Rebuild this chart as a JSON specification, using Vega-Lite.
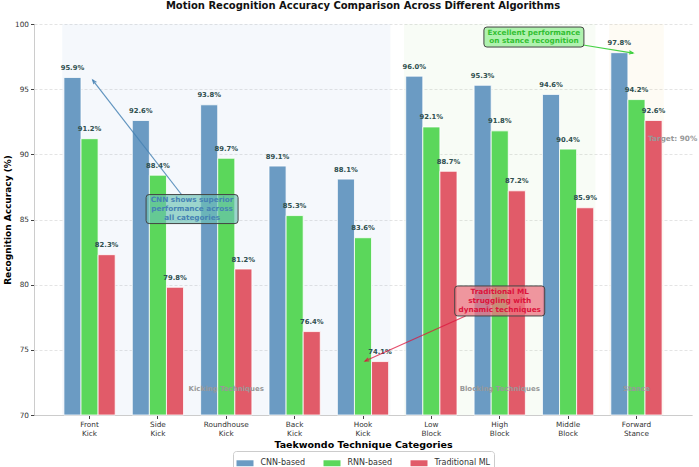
{
  "$schema": "https://vega.github.io/schema/vega-lite/v6.json",
  "width": 658,
  "height": 391,
  "autosize": {"type": "none"},
  "padding": {"left": 34, "top": 24, "right": 7, "bottom": 52},
  "background": "white",
  "title": {
    "text": "Motion Recognition Accuracy Comparison Across Different Algorithms",
    "fontSize": 10,
    "fontWeight": "bold",
    "color": "#111",
    "anchor": "middle",
    "offset": 9
  },
  "config": {"font": "DejaVu Sans", "view": {"stroke": null}},
  "datasets": {
    "accuracy": [
      {"technique": "Front Kick", "algorithm": "CNN-based", "accuracy": 95.9},
      {"technique": "Front Kick", "algorithm": "RNN-based", "accuracy": 91.2},
      {"technique": "Front Kick", "algorithm": "Traditional ML", "accuracy": 82.3},
      {"technique": "Side Kick", "algorithm": "CNN-based", "accuracy": 92.6},
      {"technique": "Side Kick", "algorithm": "RNN-based", "accuracy": 88.4},
      {"technique": "Side Kick", "algorithm": "Traditional ML", "accuracy": 79.8},
      {"technique": "Roundhouse Kick", "algorithm": "CNN-based", "accuracy": 93.8},
      {"technique": "Roundhouse Kick", "algorithm": "RNN-based", "accuracy": 89.7},
      {"technique": "Roundhouse Kick", "algorithm": "Traditional ML", "accuracy": 81.2},
      {"technique": "Back Kick", "algorithm": "CNN-based", "accuracy": 89.1},
      {"technique": "Back Kick", "algorithm": "RNN-based", "accuracy": 85.3},
      {"technique": "Back Kick", "algorithm": "Traditional ML", "accuracy": 76.4},
      {"technique": "Hook Kick", "algorithm": "CNN-based", "accuracy": 88.1},
      {"technique": "Hook Kick", "algorithm": "RNN-based", "accuracy": 83.6},
      {"technique": "Hook Kick", "algorithm": "Traditional ML", "accuracy": 74.1},
      {"technique": "Low Block", "algorithm": "CNN-based", "accuracy": 96.0},
      {"technique": "Low Block", "algorithm": "RNN-based", "accuracy": 92.1},
      {"technique": "Low Block", "algorithm": "Traditional ML", "accuracy": 88.7},
      {"technique": "High Block", "algorithm": "CNN-based", "accuracy": 95.3},
      {"technique": "High Block", "algorithm": "RNN-based", "accuracy": 91.8},
      {"technique": "High Block", "algorithm": "Traditional ML", "accuracy": 87.2},
      {"technique": "Middle Block", "algorithm": "CNN-based", "accuracy": 94.6},
      {"technique": "Middle Block", "algorithm": "RNN-based", "accuracy": 90.4},
      {"technique": "Middle Block", "algorithm": "Traditional ML", "accuracy": 85.9},
      {"technique": "Forward Stance", "algorithm": "CNN-based", "accuracy": 97.8},
      {"technique": "Forward Stance", "algorithm": "RNN-based", "accuracy": 94.2},
      {"technique": "Forward Stance", "algorithm": "Traditional ML", "accuracy": 92.6}
    ],
    "regions": [
      {"region": "Kicking Techniques", "start": -0.4, "end": 4.4, "mid": 2},
      {"region": "Blocking Techniques", "start": 4.6, "end": 7.4, "mid": 6},
      {"region": "Stance", "start": 7.6, "end": 8.4, "mid": 8}
    ],
    "notes": [
      {"note": "cnn", "text": "CNN shows superior\nperformance across\nall categories", "x": 1.5, "y": 85.8, "tip_x": 0.046, "tip_y": 95.7, "tail_x": 1.35, "tail_y": 86.88},
      {"note": "stance", "text": "Excellent performance\non stance recognition", "x": 6.5, "y": 99.0, "tip_x": 7.95, "tip_y": 97.77, "tail_x": 7.22, "tail_y": 98.39},
      {"note": "traditional", "text": "Traditional ML\nstruggling with\ndynamic techniques", "x": 6.0, "y": 78.75, "tip_x": 4.03, "tip_y": 74.14, "tail_x": 5.5, "tail_y": 77.6}
    ]
  },
  "layer": [
    {
      "data": {"name": "regions"},
      "mark": {"type": "rect", "fillOpacity": 0.1},
      "encoding": {
        "x": {"field": "start", "type": "quantitative", "scale": {"domain": [-0.8125, 8.8125], "nice": false, "zero": false}, "axis": null},
        "x2": {"field": "end"},
        "y": {"datum": 70},
        "y2": {"datum": 100},
        "fill": {
          "field": "region",
          "type": "nominal",
          "scale": {"domain": ["Kicking Techniques", "Blocking Techniques", "Stance"], "range": ["#9bb9e1", "#b9e1a5", "#f5d791"]},
          "legend": null
        }
      }
    },
    {
      "data": {"name": "accuracy"},
      "mark": {"type": "bar", "stroke": "white", "strokeWidth": 0.8},
      "encoding": {
        "x": {
          "field": "technique",
          "type": "nominal",
          "sort": null,
          "scale": {"paddingInner": 0.25, "paddingOuter": 0.4375},
          "axis": {
            "title": "Taekwondo Technique Categories",
            "labelExpr": "split(datum.label, ' ')",
            "labelAngle": 0,
            "labelFontSize": 7.3,
            "labelColor": "#333",
            "labelLineHeight": 9,
            "labelPadding": 2,
            "labelBaseline": "top",
            "tickSize": 3.5,
            "tickColor": "#444",
            "domainColor": "#ccc",
            "grid": false,
            "titleFontSize": 9.5,
            "titleFontWeight": "bold",
            "titleColor": "#000",
            "titlePadding": 3
          }
        },
        "xOffset": {
          "field": "algorithm",
          "type": "nominal",
          "sort": ["CNN-based", "RNN-based", "Traditional ML"],
          "scale": {"paddingInner": 0, "paddingOuter": 0}
        },
        "y": {
          "field": "accuracy",
          "type": "quantitative",
          "scale": {"domain": [70, 100], "zero": false, "nice": false},
          "axis": {
            "title": "Recognition Accuracy (%)",
            "values": [70, 75, 80, 85, 90, 95, 100],
            "labelFontSize": 7.3,
            "labelColor": "#333",
            "labelPadding": 2,
            "tickSize": 3.5,
            "tickColor": "#444",
            "domainColor": "#ccc",
            "grid": true,
            "gridColor": "#ddd",
            "gridDash": [3, 2],
            "gridWidth": 0.8,
            "titleFontSize": 9,
            "titleFontWeight": "bold",
            "titleColor": "#000",
            "titlePadding": 2
          }
        },
        "y2": {"datum": 70},
        "color": {
          "field": "algorithm",
          "type": "nominal",
          "scale": {"domain": ["CNN-based", "RNN-based", "Traditional ML"], "range": ["#6b9bc3", "#5bd75b", "#e15b69"]},
          "legend": {
            "title": null,
            "orient": "none",
            "legendX": 199,
            "legendY": 427,
            "direction": "horizontal",
            "symbolType": "M-1,-0.35 L1,-0.35 L1,0.35 L-1,0.35 Z",
            "symbolSize": 289,
            "symbolStrokeWidth": 0,
            "labelFontSize": 8,
            "labelColor": "#333",
            "labelOffset": 7,
            "columnPadding": 18,
            "padding": 3.5,
            "strokeColor": "#ccc",
            "fillColor": "rgba(255,255,255,0.85)",
            "cornerRadius": 3
          }
        }
      }
    },
    {
      "data": {"name": "regions"},
      "mark": {"type": "text", "fontSize": 7, "fontWeight": "bold", "color": "#999", "baseline": "middle"},
      "encoding": {
        "x": {"field": "mid", "type": "quantitative", "scale": {"domain": [-0.8125, 8.8125], "nice": false, "zero": false}, "axis": null},
        "y": {"datum": 72},
        "text": {"field": "region"}
      }
    },
    {
      "mark": {"type": "rule", "color": "#888", "strokeDash": [2, 3], "strokeWidth": 1.3},
      "encoding": {"y": {"datum": 90}}
    },
    {
      "data": {"name": "accuracy"},
      "transform": [{"calculate": "format(datum.accuracy, '.1f') + '%'", "as": "label"}],
      "mark": {"type": "text", "fontSize": 6.8, "fontWeight": "bold", "color": "#2f4f4f", "baseline": "alphabetic", "dy": -7.5},
      "encoding": {
        "x": {"field": "technique", "type": "nominal", "sort": null, "scale": {"paddingInner": 0.25, "paddingOuter": 0.4375}, "axis": null},
        "xOffset": {"field": "algorithm", "type": "nominal", "sort": ["CNN-based", "RNN-based", "Traditional ML"], "scale": {"paddingInner": 0, "paddingOuter": 0}},
        "y": {"field": "accuracy", "type": "quantitative"},
        "text": {"field": "label"}
      }
    },
    {
      "data": {"values": [{"note": "Target: 90%", "x": 8.17, "y": 91.2}]},
      "mark": {"type": "text", "align": "left", "baseline": "middle", "fontSize": 7.3, "fontWeight": "bold", "color": "#999"},
      "encoding": {
        "x": {"field": "x", "type": "quantitative", "scale": {"domain": [-0.8125, 8.8125], "nice": false, "zero": false}, "axis": null},
        "y": {"field": "y", "type": "quantitative"},
        "text": {"field": "note"}
      }
    },
    {
      "data": {"name": "notes"},
      "transform": [{"filter": "datum.note === 'cnn'"}],
      "encoding": {
        "x": {"field": "x", "type": "quantitative", "scale": {"domain": [-0.8125, 8.8125], "nice": false, "zero": false}, "axis": null},
        "y": {"field": "y", "type": "quantitative"}
      },
      "layer": [
        {
          "mark": {"type": "rule", "color": "#4682b4", "strokeWidth": 1.2, "opacity": 0.85},
          "encoding": {
            "x": {"field": "tail_x", "type": "quantitative"},
            "x2": {"field": "tip_x"},
            "y": {"field": "tail_y", "type": "quantitative"},
            "y2": {"field": "tip_y"}
          }
        },
        {
          "mark": {"type": "point", "shape": "M-0.8,2 L0,0 L0.8,2", "size": 16, "filled": false, "color": "#4682b4", "strokeWidth": 1.2, "opacity": 0.85, "angle": 322},
          "encoding": {
            "x": {"field": "tip_x", "type": "quantitative"},
            "y": {"field": "tip_y", "type": "quantitative"}
          }
        },
        {
          "mark": {"type": "point", "shape": "M-43,-14.5 L43,-14.5 Q46,-14.5 46,-11.5 L46,11.5 Q46,14.5 43,14.5 L-43,14.5 Q-46,14.5 -46,11.5 L-46,-11.5 Q-46,-14.5 -43,-14.5 Z", "size": 4, "filled": true, "fill": "#6cc2b4", "fillOpacity": 0.65, "stroke": "#444", "strokeWidth": 1, "opacity": 1}
        },
        {
          "mark": {"type": "text", "fontSize": 7.3, "fontWeight": "bold", "color": "#4682b4", "lineHeight": 8.6, "lineBreak": "\n", "baseline": "middle", "dy": -8.6},
          "encoding": {"text": {"field": "text"}}
        }
      ]
    },
    {
      "data": {"name": "notes"},
      "transform": [{"filter": "datum.note === 'stance'"}],
      "encoding": {
        "x": {"field": "x", "type": "quantitative", "scale": {"domain": [-0.8125, 8.8125], "nice": false, "zero": false}, "axis": null},
        "y": {"field": "y", "type": "quantitative"}
      },
      "layer": [
        {
          "mark": {"type": "rule", "color": "#32cd32", "strokeWidth": 1.2, "opacity": 0.9},
          "encoding": {
            "x": {"field": "tail_x", "type": "quantitative"},
            "x2": {"field": "tip_x"},
            "y": {"field": "tail_y", "type": "quantitative"},
            "y2": {"field": "tip_y"}
          }
        },
        {
          "mark": {"type": "point", "shape": "M-0.8,2 L0,0 L0.8,2", "size": 16, "filled": false, "color": "#32cd32", "strokeWidth": 1.2, "opacity": 0.9, "angle": 99},
          "encoding": {
            "x": {"field": "tip_x", "type": "quantitative"},
            "y": {"field": "tip_y", "type": "quantitative"}
          }
        },
        {
          "mark": {"type": "point", "shape": "M-47,-10 L47,-10 Q50,-10 50,-7 L50,7 Q50,10 47,10 L-47,10 Q-50,10 -50,7 L-50,-7 Q-50,-10 -47,-10 Z", "size": 4, "filled": true, "fill": "#90ee90", "fillOpacity": 0.7, "stroke": "#444", "strokeWidth": 1, "opacity": 1}
        },
        {
          "mark": {"type": "text", "fontSize": 7.3, "fontWeight": "bold", "color": "#32c032", "lineHeight": 8.6, "lineBreak": "\n", "baseline": "middle", "dy": -4.3},
          "encoding": {"text": {"field": "text"}}
        }
      ]
    },
    {
      "data": {"name": "notes"},
      "transform": [{"filter": "datum.note === 'traditional'"}],
      "encoding": {
        "x": {"field": "x", "type": "quantitative", "scale": {"domain": [-0.8125, 8.8125], "nice": false, "zero": false}, "axis": null},
        "y": {"field": "y", "type": "quantitative"}
      },
      "layer": [
        {
          "mark": {"type": "rule", "color": "#dc143c", "strokeWidth": 1.2, "opacity": 0.75},
          "encoding": {
            "x": {"field": "tail_x", "type": "quantitative"},
            "x2": {"field": "tip_x"},
            "y": {"field": "tail_y", "type": "quantitative"},
            "y2": {"field": "tip_y"}
          }
        },
        {
          "mark": {"type": "point", "shape": "M-0.8,2 L0,0 L0.8,2", "size": 16, "filled": false, "color": "#dc143c", "strokeWidth": 1.2, "opacity": 0.75, "angle": 246},
          "encoding": {
            "x": {"field": "tip_x", "type": "quantitative"},
            "y": {"field": "tip_y", "type": "quantitative"}
          }
        },
        {
          "mark": {"type": "point", "shape": "M-42,-15 L42,-15 Q45,-15 45,-12 L45,12 Q45,15 42,15 L-42,15 Q-45,15 -45,12 L-45,-12 Q-45,-15 -42,-15 Z", "size": 4, "filled": true, "fill": "#ec7480", "fillOpacity": 0.75, "stroke": "#444", "strokeWidth": 1, "opacity": 1}
        },
        {
          "mark": {"type": "text", "fontSize": 7.3, "fontWeight": "bold", "color": "#dc143c", "lineHeight": 8.6, "lineBreak": "\n", "baseline": "middle", "dy": -8.6},
          "encoding": {"text": {"field": "text"}}
        }
      ]
    }
  ],
  "resolve": {"scale": {"x": "independent"}, "axis": {"x": "independent"}}
}
